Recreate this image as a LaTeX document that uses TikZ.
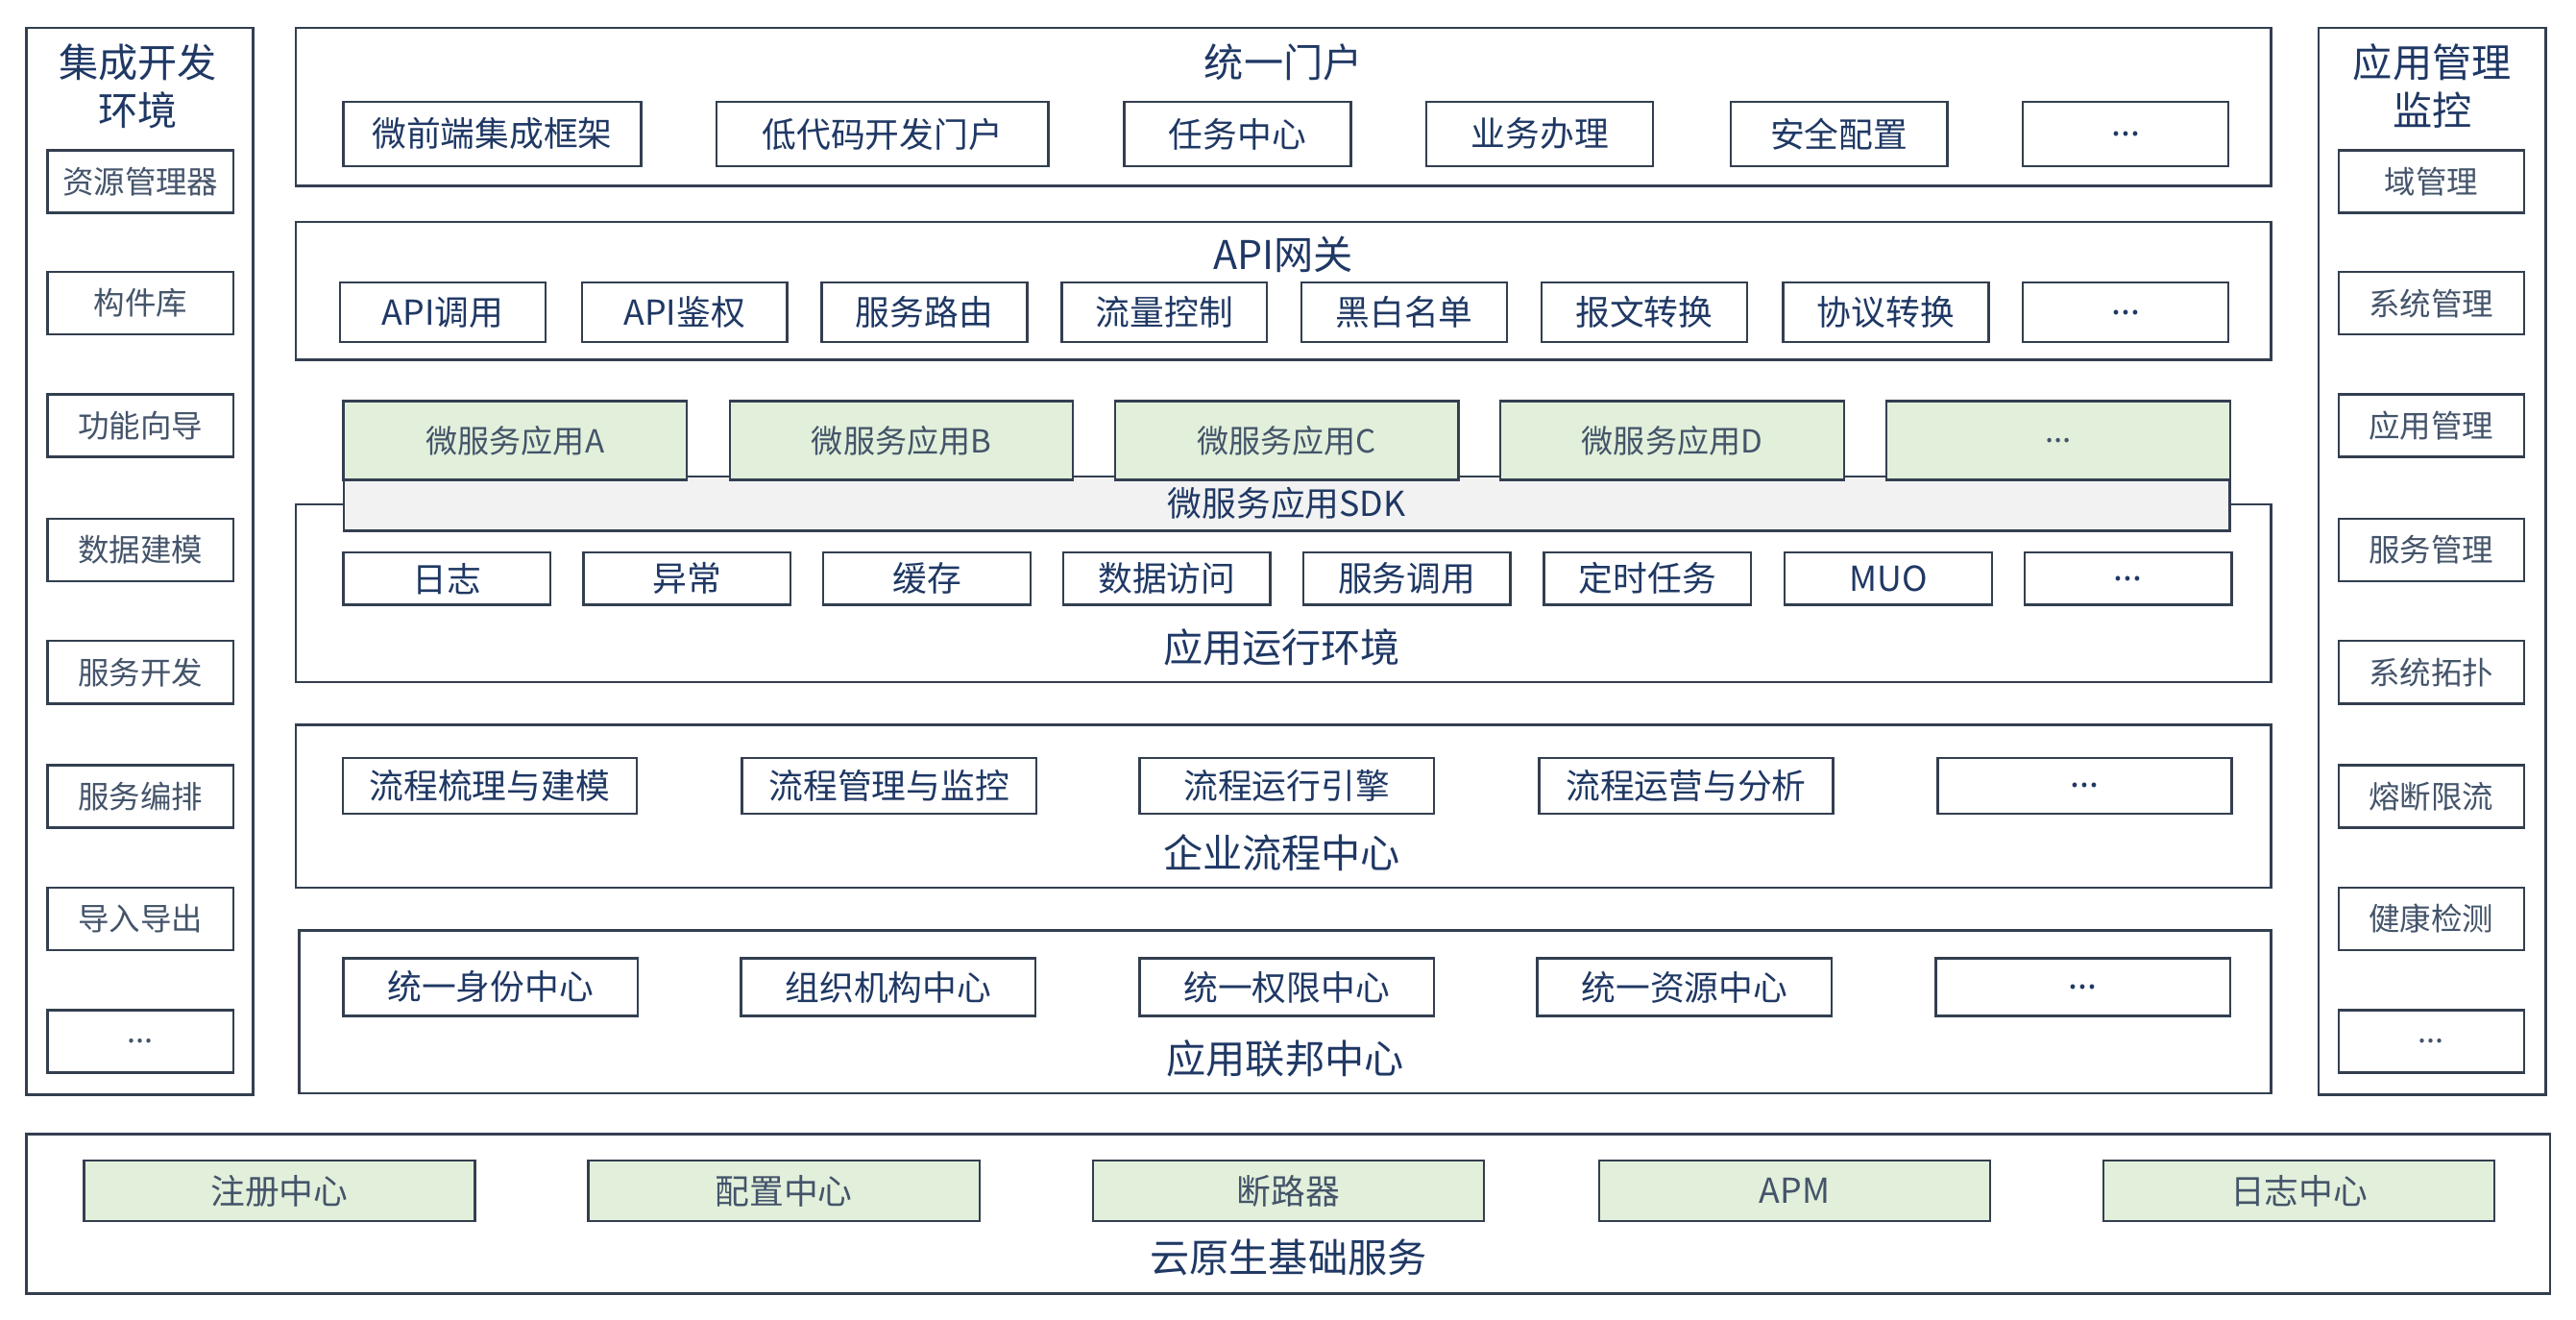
\documentclass[tikz,border=0pt]{standalone}
\usepackage{fontspec}
\setmainfont{Noto Sans CJK SC}
\definecolor{linec}{HTML}{333F50}
\definecolor{navy}{HTML}{1F3864}
\definecolor{grayb}{HTML}{44546A}
\definecolor{appg}{HTML}{E2EFDA}
\definecolor{sdkg}{HTML}{F2F2F2}
\newcommand{\more}{...}
\tikzset{
  box/.style={draw=linec, line width=0.8pt, rectangle, inner sep=0pt},
  item/.style={box, fill=white, text=navy, font=\fontsize{11.9}{13}\selectfont},
  side/.style={box, fill=white, text=grayb, font=\fontsize{10.8}{12}\selectfont, minimum width=2.26cm, minimum height=0.76cm},
  app/.style={box, fill=appg, text=grayb, font=\fontsize{11}{12}\selectfont, minimum width=4.18cm, minimum height=0.96cm},
  base/.style={box, fill=appg, text=grayb, font=\fontsize{11.9}{13}\selectfont, minimum width=4.76cm, minimum height=0.74cm},
  title/.style={text=navy, font=\fontsize{13.7}{16.5}\selectfont, inner sep=0pt, align=center}
}
\begin{document}
\begin{tikzpicture}[x=0.02cm, y=-0.02cm]
\useasboundingbox (0,0) rectangle (1567.5,803);
% frames
\node (L)[box, minimum width=2.76cm, minimum height=12.98cm] at (85,341.5) {};
\node (R)[box, minimum width=2.76cm, minimum height=12.98cm] at (1480,341.5) {};
\node (P)[box, minimum width=24.04cm, minimum height=1.92cm] at (781,65) {};
\node (G)[box, minimum width=24.04cm, minimum height=1.68cm] at (781,177) {};
\node (E)[box, minimum width=24.04cm, minimum height=2.16cm] at (781,361) {};
\node (W)[box, minimum width=24.04cm, minimum height=1.98cm] at (781,490.5) {};
\node (F)[box, minimum width=24.00cm, minimum height=1.98cm] at (782,615.5) {};
\node (C)[box, minimum width=30.72cm, minimum height=1.94cm] at (784,738.5) {};

% titles
\node (Lt)[title] at (84,52.5) {集成开发\\环境};
\node (Rt)[title] at (1480,52.5) {应用管理\\监控};
\node (Pt)[title] at (781,38) {统一门户};
\node (Gt)[title] at (781,155) {API网关};
\node (Et)[title] at (780,394) {应用运行环境};
\node (Wt)[title] at (780,519) {企业流程中心};
\node (Ft)[title] at (782,644) {应用联邦中心};
\node (Ct)[title] at (784,765) {云原生基础服务};

% side columns
\foreach \y/\xtext/\n in {110.5/资源管理器/1,184.5/构件库/2,259/功能向导/3,334.5/数据建模/4,409/服务开发/5,484.5/服务编排/6,559/导入导出/7,633.5/\more/8}
{
	\node (L\n)[side] at (85.5,\y) {\xtext};
}
\foreach \y/\xtext/\n in {110.5/域管理/1,184.5/系统管理/2,259/应用管理/3,334.5/服务管理/4,409/系统拓扑/5,484.5/熔断限流/6,559/健康检测/7,633.5/\more/8}
{
	\node (R\n)[side] at (1479.5,\y) {\xtext};
}

% portal
\foreach \x/\w/\xtext/\n in {299.5/181/微前端集成框架/1,537/202/低代码开发门户/2,753/138/任务中心/3,937/138/业务办理/4,1119/132/安全配置/5,1293.5/125/\more/6}
{
	\node (P\n)[item, minimum width=\w*0.02cm, minimum height=0.78cm] at (\x,81.5) {\xtext};
}
% gateway
\foreach \x/\xtext/\n in {269.5/API调用/1,416.5/API鉴权/2,562.5/服务路由/3,708.5/流量控制/4,854.5/黑白名单/5,1000.5/报文转换/6,1147.5/协议转换/7,1293.5/\more/8}
{
	\node (G\n)[item, minimum width=2.5cm, minimum height=0.72cm] at (\x,190) {\xtext};
}

% microservices + SDK
\node (S)[box, fill=sdkg, minimum width=22.96cm, minimum height=0.66cm] at (783,306.5) {};
\node (St) at (783,306) [text=navy, font=\fontsize{11.9}{13}\selectfont, inner sep=0pt] {微服务应用SDK};
\foreach \x/\xtext/\n in {313.5/微服务应用A/1,548.5/微服务应用B/2,783/微服务应用C/3,1017.5/微服务应用D/4,1252.5/\more/5}
{
	\node (A\n)[app] at (\x,268) {\xtext};
}
\foreach \x/\xtext/\n in {272/日志/1,418/异常/2,564/缓存/3,710/数据访问/4,856/服务调用/5,1002.5/定时任务/6,1149/MUO/7,1295/\more/8}
{
	\node (E\n)[item, minimum width=2.52cm, minimum height=0.64cm] at (\x,352) {\xtext};
}

% process / federation
\foreach \x/\xtext/\n in {298/流程梳理与建模/1,541/流程管理与监控/2,783/流程运行引擎/3,1026/流程运营与分析/4,1268.5/\more/5}
{
	\node (W\n)[item, minimum width=3.58cm, minimum height=0.68cm] at (\x,478) {\xtext};
}
\foreach \x/\xtext/\n in {298.5/统一身份中心/1,540.5/组织机构中心/2,783/统一权限中心/3,1025/统一资源中心/4,1267.5/\more/5}
{
	\node (F\n)[item, minimum width=3.58cm, minimum height=0.70cm] at (\x,600.5) {\xtext};
}

% cloud base
\foreach \x/\xtext/\n in {170/注册中心/1,477/配置中心/2,784/断路器/3,1092/APM/4,1399/日志中心/5}
{
	\node (C\n)[base] at (\x,724.5) {\xtext};
}
\end{tikzpicture}
\end{document}
